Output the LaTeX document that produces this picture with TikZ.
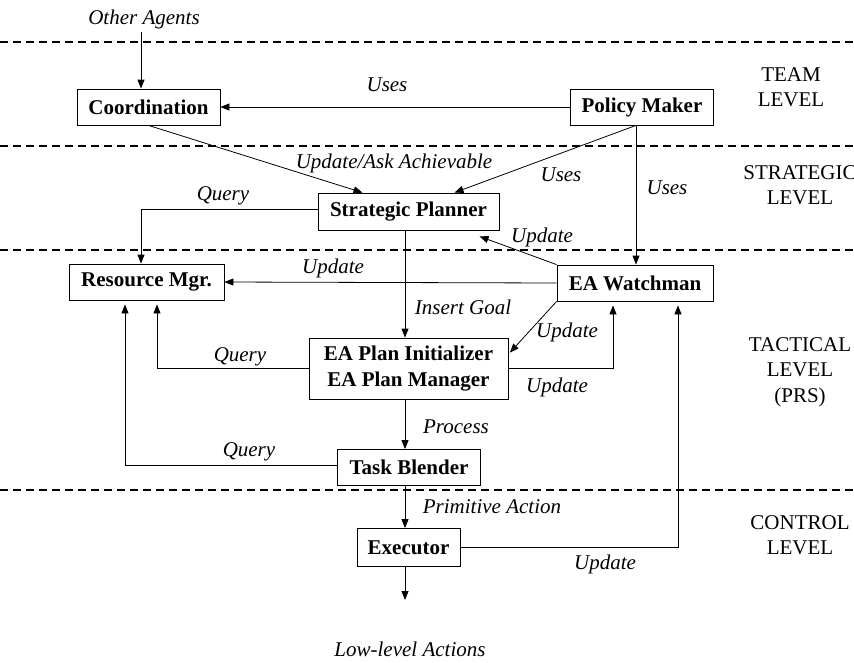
\documentclass[tikz,border=0pt]{standalone}
\usepackage{fontspec}
\setmainfont{Liberation Serif}
\usetikzlibrary{arrows.meta}
\tikzset{
  txt/.style={font=\fontsize{21pt}{25.5pt}\selectfont},
  box/.style={draw, line width=0.8pt, inner sep=0pt, align=center,
    font=\fontsize{21pt}{25.5pt}\selectfont\bfseries},
  lab/.style={inner sep=0pt, font=\fontsize{21pt}{25.5pt}\selectfont\itshape},
  lvl/.style={inner sep=0pt, align=center, font=\fontsize{21pt}{25.5pt}\selectfont},
  arr/.style={line width=0.8pt, -{Triangle[length=9pt,width=7pt]}},
  arrg/.style={arr, shorten >=4pt},
  sep/.style={line width=1.4pt, dash pattern=on 7.5pt off 5.5pt},
}
\begin{document}
\begin{tikzpicture}[x=1pt,y=-1pt]
\useasboundingbox (0,0) rectangle (854,662);
% level separators
\draw[sep] (0,42) -- (854,42);
\draw[sep] (0,146) -- (854,146);
\draw[sep] (0,250) -- (854,250);
\draw[sep] (0,490) -- (854,490);
% level labels
\node[lvl] (lteam) at (791,87) {TEAM\\LEVEL};
\node[lvl] (lstrat) at (800,185) {STRATEGIC\\LEVEL};
\node[lvl] (ltact) at (800,372) {TACTICAL\\LEVEL\\(PRS)};
\node[lvl] (lctrl) at (800,535) {CONTROL\\LEVEL};
% boxes
\node[box, minimum width=143pt, minimum height=36pt] (coord) at (148.5,107) {Coordination};
\node[box, minimum width=143pt, minimum height=36pt] (pm) at (642,107) {Policy Maker};
\node[box, minimum width=181pt, minimum height=37pt] (sp) at (408.5,211.5) {Strategic Planner};
\node[box, minimum width=155pt, minimum height=36pt] (rm) at (146.5,282) {Resource Mgr.};
\node[box, minimum width=156pt, minimum height=36pt] (eaw) at (635,283) {EA Watchman};
\node[box, minimum width=199pt, minimum height=61pt] (eap) at (408.5,368.5) {EA Plan Initializer\\EA Plan Manager};
\node[box, minimum width=143pt, minimum height=36pt] (tb) at (409,467.5) {Task Blender};
\node[box, minimum width=103pt, minimum height=38pt] (ex) at (408.5,547.5) {Executor};
% free texts
\node[lab] (oa) at (144,19) {Other Agents};
\node[lab] (lla) at (410,649) {Low-level Actions};
\coordinate (out) at (405,600);
% connectors
\draw[arr] ([xshift=-3pt,yshift=-3pt]oa.south) -- ([xshift=-7.5pt]coord.north);
\draw[arr] (pm.west) -- (coord.east);
\draw[arr] (coord.south) -- ([xshift=-46pt]sp.north);
\draw[arr] ([xshift=-6pt]pm.south) -- ([xshift=46pt]sp.north);
\draw[arr] ([xshift=-6pt]pm.south) -- ([xshift=1pt]eaw.north);
\draw[arr] ([yshift=2pt]sp.west) -| ([xshift=-5.5pt]rm.north);
\draw[arr] ([xshift=-3.5pt]sp.south) -- ([xshift=-3.5pt]eap.north);
\draw[arr] (eaw.north west) -- ([xshift=71pt,yshift=-6pt]sp.south);
\draw[arr] (eaw.west) -- (rm.east);
\draw[arr] (eaw.south west) -- ([xshift=1.5pt,yshift=-15pt]eap.north east);
\draw[arrg] (eap.east) -| ([xshift=-22pt]eaw.south);
\draw[arrg] (eap.west) -| ([xshift=10.5pt]rm.south);
\draw[arrg] ([yshift=2pt]tb.west) -| ([xshift=-21.5pt]rm.south);
\draw[arr] ([xshift=-3.5pt]eap.south) -- ([xshift=-4pt]tb.north);
\draw[arr] ([xshift=-4pt]tb.south) -- ([xshift=-3.5pt]ex.north);
\draw[arrg] (ex.east) -| ([xshift=43pt]eaw.south);
\draw[arr] ([xshift=-3.5pt]ex.south) -- (out);
% connector labels
\node[lab] (l1) at (387,85) {Uses};
\node[lab] (l2) at (394,163) {Update/Ask Achievable};
\node[lab] (l3) at (561,175) {Uses};
\node[lab] (l4) at (667,188) {Uses};
\node[lab] (l5) at (223,196) {Query};
\node[lab] (l6) at (542,237) {Update};
\node[lab] (l7) at (333,268) {Update};
\node[lab] (l8) at (463,307) {Insert Goal};
\node[lab] (l9) at (567,332) {Update};
\node[lab] (l10) at (240,357) {Query};
\node[lab] (l11) at (557,387) {Update};
\node[lab] (l12) at (456,427) {Process};
\node[lab] (l13) at (249,452) {Query};
\node[lab] (l14) at (492,507) {Primitive Action};
\node[lab] (l15) at (605,564) {Update};
\end{tikzpicture}
\end{document}
